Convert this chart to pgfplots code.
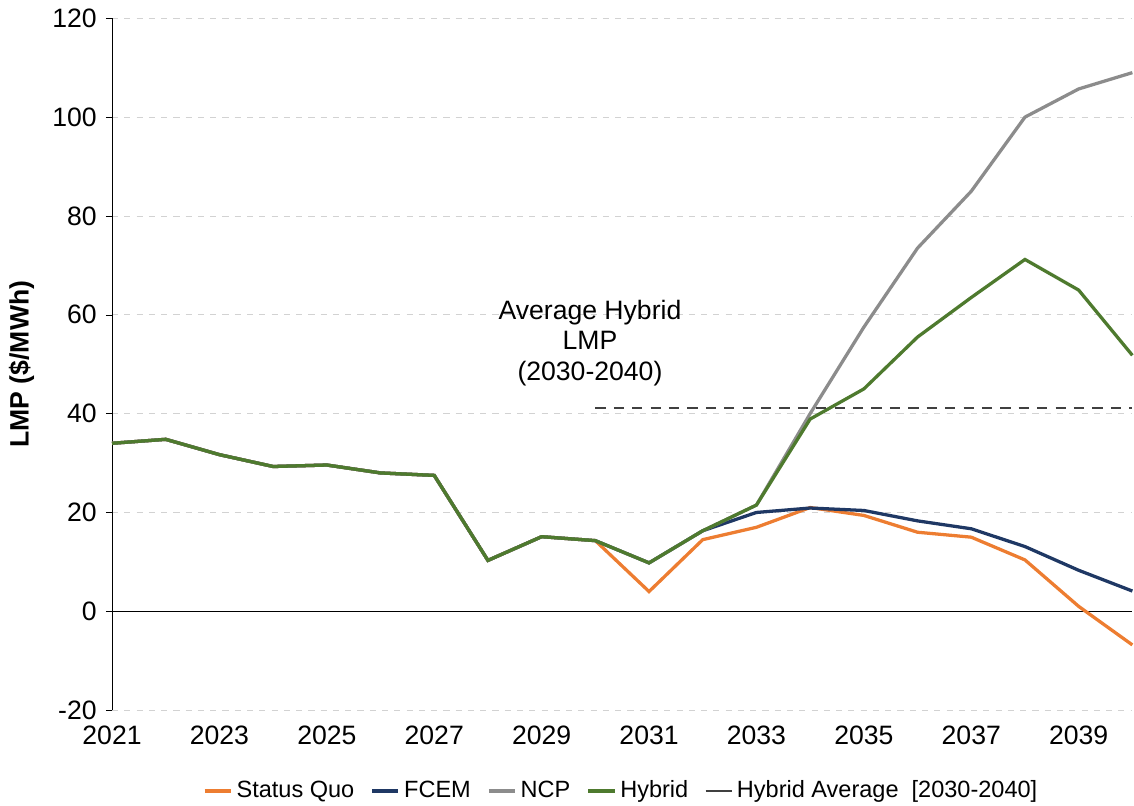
\documentclass[border=0pt]{standalone}
\usepackage{pgfplots}
\pgfplotsset{compat=1.18}
\usepackage{fontspec}
\setmainfont{Liberation Sans}
\definecolor{sq}{HTML}{ED7D31}
\definecolor{fc}{HTML}{1F3864}
\definecolor{ncp}{HTML}{8C8C8C}
\definecolor{hy}{HTML}{4E7A2E}
\begin{document}
\fontsize{13}{15}\selectfont
\begin{tikzpicture}
\begin{axis}[scale only axis, width=497bp, height=337bp,
  xmin=2021, xmax=2040, ymin=-20, ymax=120,
  xtick={2021,2023,...,2039}, ytick={-20,0,...,120},
  x tick label style={/pgf/number format/1000 sep={}},
  /pgf/number format/assume math mode=true,
  ticklabel style={font=\fontsize{13}{15}\selectfont},
  axis x line*=bottom, x axis line style={draw=none}, xtick style={draw=none},
  axis y line*=left, y axis line style={-},
  ytick style={black}, tick align=outside, major tick length=3pt,
  ymajorgrids, grid style={gray!35, dashed},
  ylabel={\textbf{LMP (\$/MWh)}}, ylabel style={font=\fontsize{13}{15}\selectfont},
  legend columns=5, legend style={draw=none, at={(0.5,-0.095)}, anchor=north, inner sep=0pt, font=\fontsize{11.5}{13}\selectfont, /tikz/every even column/.append style={column sep=6pt}},
  legend image code/.code={\draw[#1] (0cm,0cm) -- (0.45cm,0cm);},
  clip=false]
\draw[black] (axis cs:2021,0) -- (axis cs:2040,0);
\node[align=center, font=\fontsize{13}{15}\selectfont] at (axis cs:2029.9,54.3) {Average Hybrid\\LMP\\(2030-2040)};
\addplot[sq, line width=1.6pt] coordinates {(2021,34)(2022,34.8)(2023,31.7)(2024,29.3)(2025,29.6)(2026,28)(2027,27.5)(2028,10.3)(2029,15.1)(2030,14.3)(2031,4)(2032,14.5)(2033,17)(2034,21)(2035,19.4)(2036,16)(2037,15)(2038,10.4)(2039,1)(2040,-6.8)};
\addlegendentry{Status Quo}
\addplot[fc, line width=1.6pt] coordinates {(2021,34)(2022,34.8)(2023,31.7)(2024,29.3)(2025,29.6)(2026,28)(2027,27.5)(2028,10.3)(2029,15.1)(2030,14.3)(2031,9.8)(2032,16.3)(2033,20)(2034,20.9)(2035,20.4)(2036,18.3)(2037,16.7)(2038,13.1)(2039,8.3)(2040,4.1)};
\addlegendentry{FCEM}
\addplot[ncp, line width=1.6pt] coordinates {(2021,34)(2022,34.8)(2023,31.7)(2024,29.3)(2025,29.6)(2026,28)(2027,27.5)(2028,10.3)(2029,15.1)(2030,14.3)(2031,9.8)(2032,16.3)(2033,21.5)(2034,40)(2035,57.5)(2036,73.5)(2037,85)(2038,100)(2039,105.7)(2040,109)};
\addlegendentry{NCP}
\addplot[hy, line width=1.6pt] coordinates {(2021,34)(2022,34.8)(2023,31.7)(2024,29.3)(2025,29.6)(2026,28)(2027,27.5)(2028,10.3)(2029,15.1)(2030,14.3)(2031,9.8)(2032,16.3)(2033,21.5)(2034,38.9)(2035,45)(2036,55.5)(2037,63.5)(2038,71.2)(2039,65)(2040,51.8)};
\addlegendentry{Hybrid}
\addplot[black!75, line width=1pt, dash pattern=on 5pt off 4pt, forget plot] coordinates {(2030,41.2)(2040,41.2)};
\addlegendimage{black!75, line width=1pt}
\addlegendentry{Hybrid Average\ \ [2030-2040]}
\end{axis}
\end{tikzpicture}
\end{document}
